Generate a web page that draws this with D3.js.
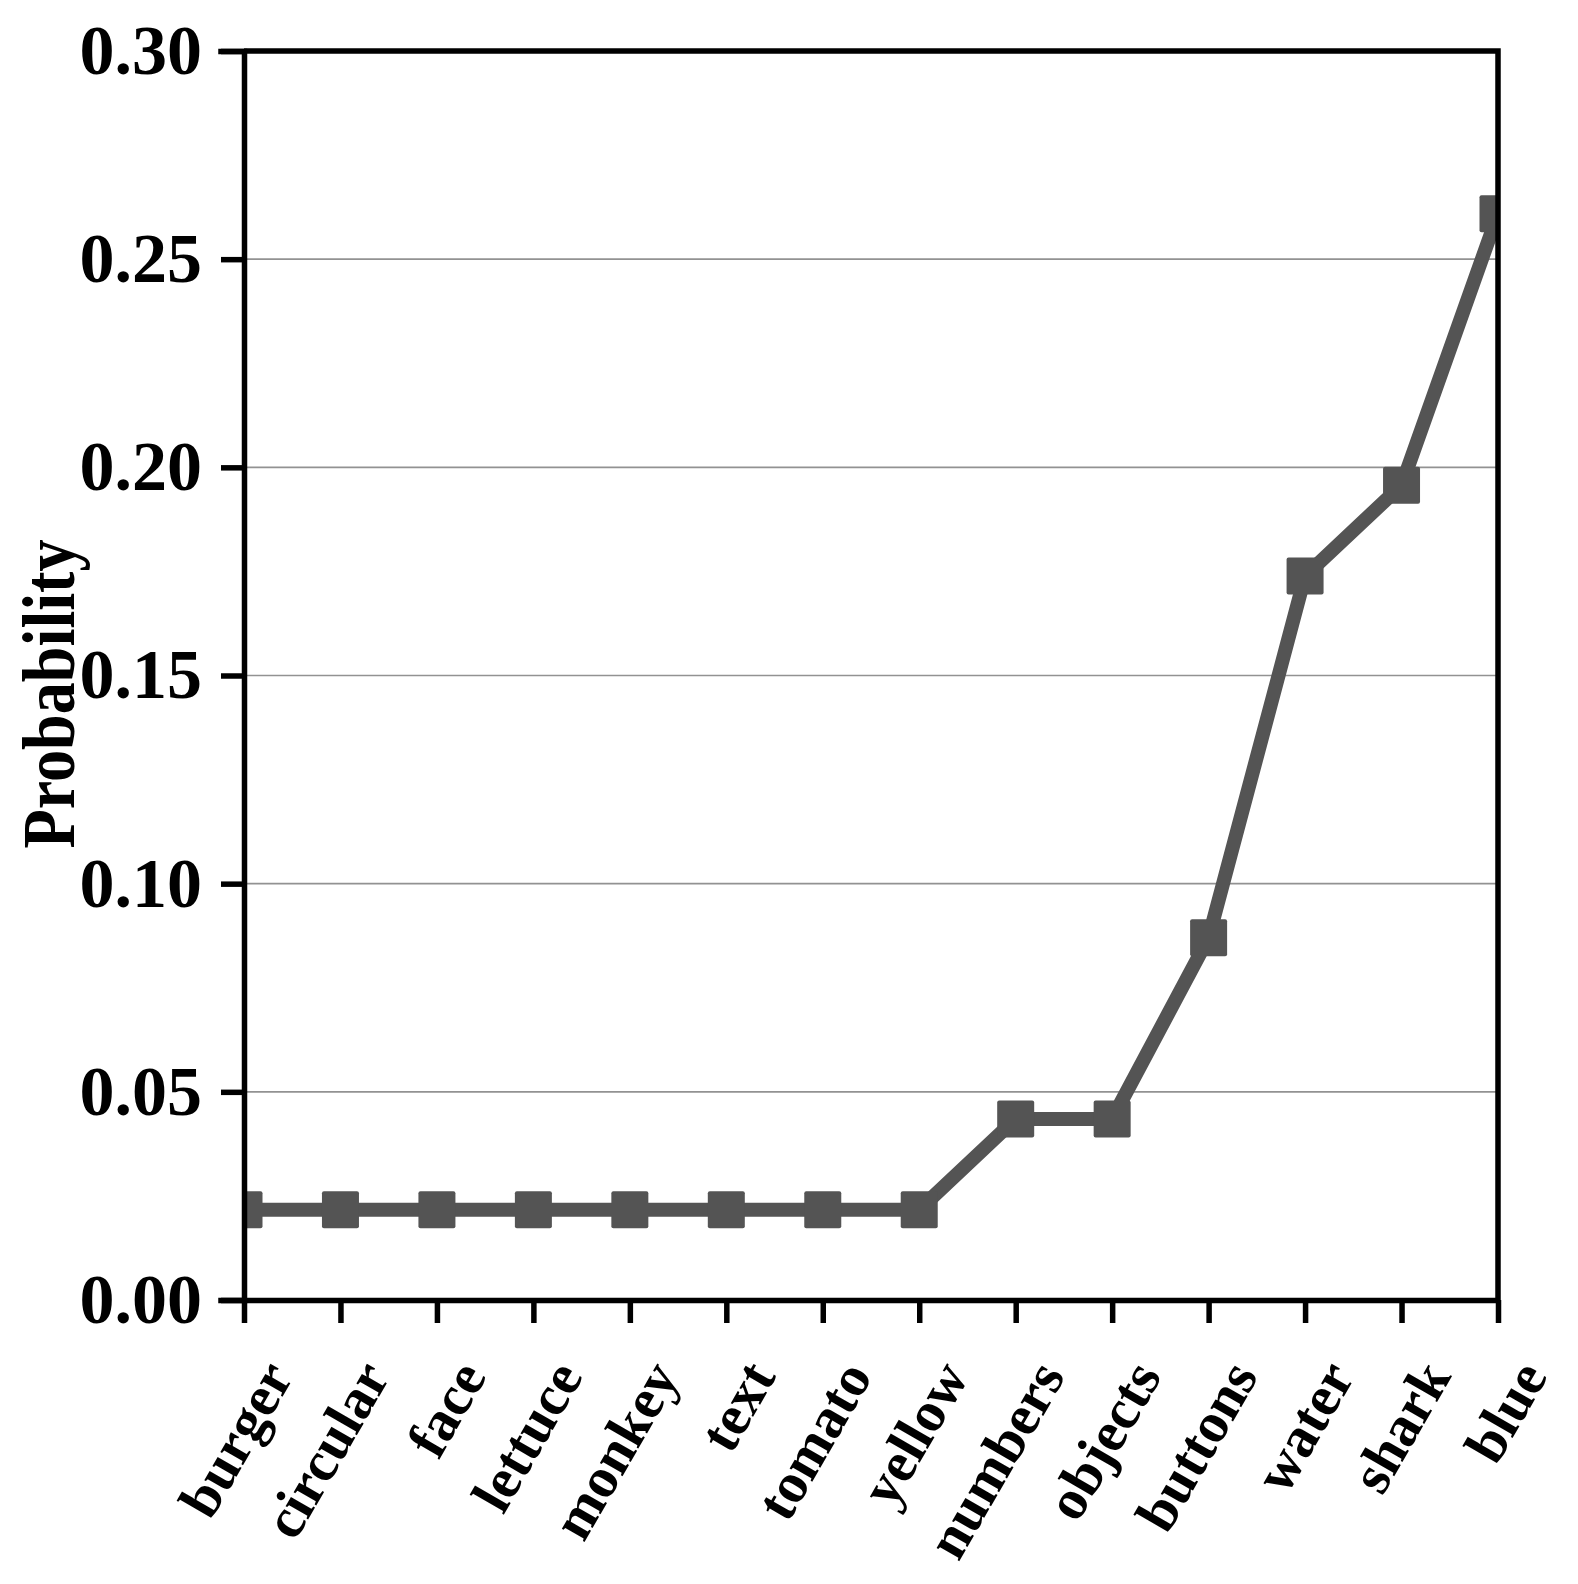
<!DOCTYPE html>
<html>
<head>
<meta charset="utf-8">
<script src="https://cdn.jsdelivr.net/npm/d3@7"></script>
<style>
  body { margin: 0; background: #fff; }
  text { font-family: "Liberation Serif", "Times New Roman", serif; font-weight: bold; }
</style>
</head>
<body>
<svg id="chart" width="1578" height="1584"></svg>
<script>
// words on the x axis
const categories = ["burger", "circular", "face", "lettuce", "monkey", "text", "tomato",
  "yellow", "numbers", "objects", "buttons", "water", "shark", "blue"];
// probability of each word
const probability = [0.0217, 0.0217, 0.0217, 0.0217, 0.0217, 0.0217, 0.0217,
  0.0217, 0.0435, 0.0435, 0.087, 0.1739, 0.1957, 0.2609];
const yTicks = [0, 0.05, 0.10, 0.15, 0.20, 0.25, 0.30];

const svg = d3.select("#chart");

// plot box
var margin = {top: 51, right: 80, bottom: 284, left: 244},
    width = 1578,
    height = 1584;

const x = d3.scalePoint()
  .domain(categories)
  .range([margin.left, width - margin.right]);

const y = d3.scaleLinear()
  .domain([0, 0.30])
  .range([height - margin.bottom, margin.top]);

const data = categories.map((c, i) => ({word: c, p: probability[i]}));

// grid lines
svg.append("g")
  .selectAll("line")
  .data(yTicks.slice(1, -1))
  .enter()
  .append("line")
  .attr("x1", margin.left)
  .attr("x2", width - margin.right)
  .attr("y1", d => y(d))
  .attr("y2", d => y(d))
  .attr("stroke", "#929292")
  .attr("stroke-width", 1.6);

// clip the series to the plot area
svg.append("clipPath")
  .attr("id", "plot-clip")
  .append("rect")
  .attr("x", margin.left)
  .attr("y", margin.top)
  .attr("width", width - margin.right - margin.left)
  .attr("height", height - margin.bottom - margin.top);

const series = svg.append("g").attr("clip-path", "url(#plot-clip)");

const line = d3.line()
  .x(d => x(d.word))
  .y(d => y(d.p));

series.append("path")
  .datum(data)
  .attr("d", line)
  .attr("fill", "none")
  .attr("stroke", "#545454")
  .attr("stroke-width", 14)
  .attr("stroke-linejoin", "miter");

const size = 37;
series.selectAll(".marker")
  .data(data)
  .enter()
  .append("rect")
  .attr("class", "marker")
  .attr("x", d => x(d.word) - size / 2)
  .attr("y", d => y(d.p) - size / 2)
  .attr("width", size)
  .attr("height", size)
  .attr("rx", 2)
  .attr("fill", "#545454");

// top and right border
svg.append("path")
  .attr("d", `M${margin.left},${margin.top}H${width - margin.right}V${height - margin.bottom}`)
  .attr("fill", "none")
  .attr("stroke", "#000")
  .attr("stroke-width", 5.5);

// y axis
const yAxis = d3.axisLeft(y)
  .tickValues(yTicks)
  .tickFormat(d3.format(".2f"))
  .tickSize(23)
  .tickPadding(19);

const gy = svg.append("g")
  .attr("transform", `translate(${margin.left}, 0)`)
  .call(yAxis);
gy.select(".domain").attr("stroke-width", 5.5).attr("stroke-linecap", "square");
gy.selectAll(".tick line").attr("stroke-width", 5.5);
gy.selectAll("text")
  .style("font-size", "70px")
  .style("font-family", "'Liberation Serif', 'Times New Roman', serif")
  .style("font-weight", "bold")
  .attr("fill", "#000");

// x axis
const xAxis = d3.axisBottom(x).tickSize(23).tickSizeOuter(0);
const gx = svg.append("g")
  .attr("transform", `translate(0, ${height - margin.bottom})`)
  .call(xAxis);
gx.select(".domain").attr("stroke-width", 5.5);
gx.selectAll(".tick line").attr("stroke-width", 5.5);
gx.selectAll("text")
  .attr("y", 0)
  .attr("dy", 0)
  .attr("transform", "translate(50, 76) rotate(-60)")
  .style("text-anchor", "end")
  .style("font-size", "57px")
  .style("font-family", "'Liberation Serif', 'Times New Roman', serif")
  .style("font-weight", "bold")
  .attr("fill", "#000");

// y axis title
svg.append("text")
  .attr("transform", "translate(74, 694) rotate(-90)")
  .attr("text-anchor", "middle")
  .attr("textLength", 309)
  .attr("lengthAdjust", "spacingAndGlyphs")
  .style("font-size", "74px")
  .text("Probability");
</script>
</body>
</html>
